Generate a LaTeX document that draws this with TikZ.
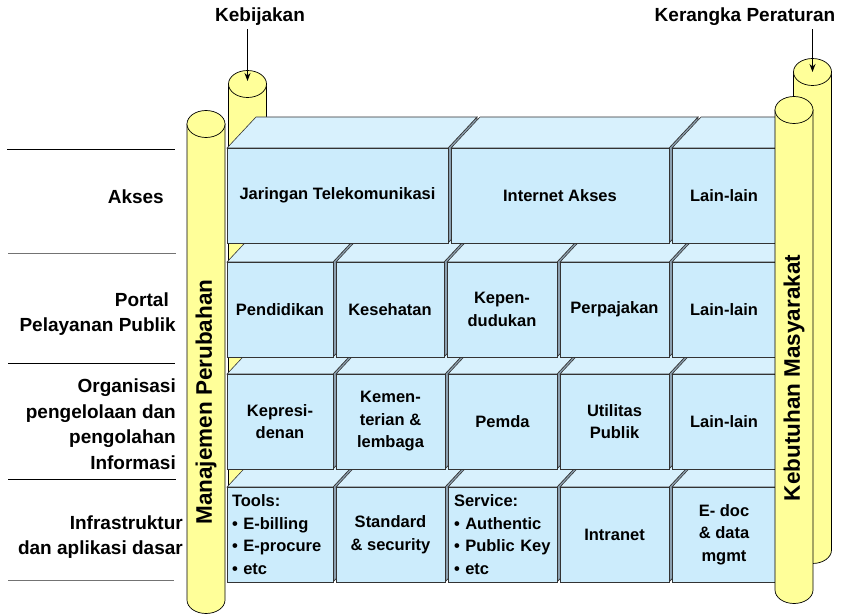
\documentclass[tikz,border=0pt]{standalone}
\usepackage{fontspec}
\setmainfont{Liberation Sans}
\usetikzlibrary{positioning, arrows.meta}

\definecolor{frontblue}{RGB}{204,236,252}
\definecolor{topblue}{RGB}{216,241,253}
\definecolor{sidegray}{RGB}{140,160,176}
\definecolor{pillaryellow}{RGB}{255,255,153}

% pillar: centre x, top y, bottom y, name of top point
\newcommand{\pillar}[4]{%
  \filldraw[pillarbody] (#1-19,#2) -- (#1-19,#3)
    arc[start angle=180, end angle=360, x radius=19pt, y radius=13.5pt]
    -- (#1+19,#2) -- cycle;
  \filldraw[pillarbody] (#1,#2) ellipse[x radius=19pt, y radius=13.5pt];
  \coordinate (#4) at (#1,#2);
}

% panel: [options]{left x}{right x}{top y}{name}{text}
\newcommand{\panel}[6][]{%
  \filldraw[sideface] (#3,#4) -- ++(29,-31) -- ++(0,95) -- ++(-29,31) -- cycle;
  \filldraw[topface] (#2,#4) -- ++(29,-31) -- (#3+29,#4-31) -- (#3,#4) -- cycle;
  \node[front, minimum width={(#3-#2)*1pt}, anchor=north west, #1] (#5) at (#2,#4) {#6};
}

\begin{document}
\begin{tikzpicture}[
    x=1pt, y=-1pt,
    front/.style={draw=black!80, line width=0.6pt, fill=frontblue, inner sep=2pt,
                  outer sep=0pt, minimum height=95pt, align=center,
                  font=\fontsize{16.5}{22.5}\selectfont\bfseries},
    topface/.style={draw=black!80, line width=0.6pt, fill=topblue},
    sideface/.style={draw=black!80, line width=0.6pt, fill=sidegray},
    pillarbody/.style={draw=black, line width=0.7pt, fill=pillaryellow},
    pillartext/.style={font=\fontsize{22.5}{25}\selectfont\bfseries},
    heading/.style={font=\fontsize{19}{22}\selectfont\bfseries},
    layer/.style={anchor=east, align=right, inner sep=0pt,
                  font=\fontsize{19}{25.5}\selectfont\bfseries},
    divider/.style={line width=0.9pt},
    pointer/.style={-{Stealth[length=8pt, width=6pt]}, line width=1.1pt}
]
    \useasboundingbox (0,0) rectangle (843,615);

    % === Back pillars ===
    \pillar{247.5}{84}{555}{kebtop}
    \pillar{812.5}{72}{550}{kertop}

    % === Row 4: Infrastruktur ===
    \panel[text width=96pt, align=left]{227}{333}{487}{tools}{Tools:\\• E-billing\\• E-procure\\• etc}
    \panel{336}{445}{487}{standard}{Standard\\\& security}
    \panel[text width=97pt, align=left]{448}{557}{487}{service}{Service:\\• Authentic\\• Public Key\\• etc}
    \panel{560}{669}{487}{intranet}{Intranet}
    \panel{672}{776}{487}{edoc}{E- doc\\\& data\\mgmt}

    % === Row 3: Organisasi ===
    \panel{227}{333}{374}{presiden}{Kepresi-\\denan}
    \panel{336}{445}{374}{menteri}{Kemen-\\terian \&\\lembaga}
    \panel{448}{557}{374}{pemda}{Pemda}
    \panel{560}{669}{374}{utilitas}{Utilitas\\Publik}
    \panel{672}{776}{374}{lainorg}{Lain-lain}

    % === Row 2: Portal ===
    \panel{227}{333}{262}{didik}{Pendidikan}
    \panel{336}{444}{262}{sehat}{Kesehatan}
    \panel{447}{557}{262}{duduk}{Kepen-\\dudukan}
    \panel{560}{669}{262}{pajak}{Perpajakan}
    \panel{672}{776}{262}{lainportal}{Lain-lain}

    % === Row 1: Akses ===
    \panel{227}{448}{148}{telko}{Jaringan Telekomunikasi}
    \panel{451}{669}{148}{internet}{Internet Akses}
    \panel{672}{776}{148}{lainakses}{Lain-lain}

    % === Front pillars ===
    \pillar{206}{124}{600}{mgmtop}
    \pillar{794}{110}{590}{needtop}
    \node[pillartext, rotate=90] (perubahan) at (206, 402) {Manajemen Perubahan};
    \node[pillartext, rotate=90] (masyarakat) at (794, 378) {Kebutuhan Masyarakat};

    % === Headings ===
    \node[heading] (kebijakan) at (260, 17) {Kebijakan};
    \node[heading] (kerangka) at (745, 17) {Kerangka Peraturan};
    \draw[pointer, shorten >=3pt] (kebijakan.south -| kebtop) -- (kebtop);
    \draw[pointer] (kerangka.south -| kertop) -- (kertop);

    % === Layer labels ===
    \draw[divider] (7,149) -- (175,149);
    \draw[divider, black!55] (8,253) -- (176,253);
    \draw[divider] (8,363) -- (175,363);
    \draw[divider] (8,479) -- (176,479);
    \draw[divider, black!55] (8,580) -- (174,580);

    \node[layer] (akses) at (164, 197) {Akses};
    \node[layer] (portal) at (176, 314) {Portal\hspace*{7pt}\\Pelayanan Publik};
    \node[layer] (organisasi) at (176, 424) {Organisasi\\pengelolaan dan\hspace*{3pt}\\pengolahan\hspace*{8pt}\\Informasi};
    \node[layer] (infra) at (183, 537) {Infrastruktur\\dan aplikasi dasar};

\end{tikzpicture}
\end{document}
